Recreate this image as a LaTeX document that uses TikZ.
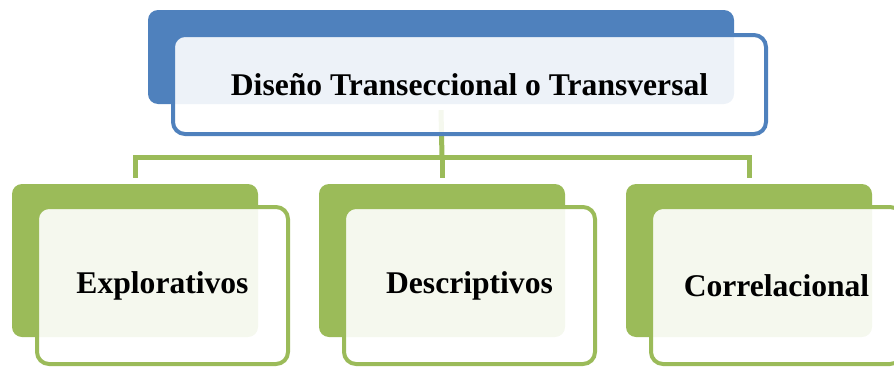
\documentclass[tikz,border=0pt]{standalone}
\usepackage{fontspec}
\setmainfont{Liberation Serif}
\definecolor{diagblue}{HTML}{4F81BD}
\definecolor{diaggreen}{HTML}{9BBB59}
\tikzset{
    backbox/.style={rectangle, rounded corners=10pt, inner sep=0pt},
    frontbox/.style={rectangle, rounded corners=12pt, line width=4pt, fill=white, fill opacity=0.9, text opacity=1, inner sep=0pt, font=\fontsize{31.6}{36}\selectfont\bfseries},
    link/.style={draw=diaggreen, line width=5pt}
}
\begin{document}
\begin{tikzpicture}[x=1pt,y=-1pt]
        \useasboundingbox (0,0) rectangle (894,367);
        
        \node[backbox, fill=diagblue, minimum width=586pt, minimum height=94pt] (titleback) at (441,57) {};
        
        \node[backbox, fill=diaggreen, minimum width=246pt, minimum height=153pt] (exploback) at (135,260.5) {};
        \node[backbox, fill=diaggreen, minimum width=246pt, minimum height=153pt] (descback) at (442,260.5) {};
        \node[backbox, fill=diaggreen, minimum width=246pt, minimum height=153pt] (corrback) at (749,260.5) {};
        
        \coordinate (bus) at (442,157);
        \draw[link] ([yshift=-6pt]titleback.south) -- (bus);
        \draw[link] ([yshift=6pt]exploback.north) |- (bus) -| ([yshift=6pt]corrback.north);
        \draw[link] (bus) -- ([yshift=6pt]descback.north);
        
        \node[frontbox, draw=diagblue, minimum width=593pt, minimum height=99pt] (title) at (469.5,84.5) {Diseño Transeccional o Transversal};
        
        \node[frontbox, draw=diaggreen, minimum width=251pt, minimum height=157pt] (explo) at (162.5,285.5) {Explorativos};
        \node[frontbox, draw=diaggreen, minimum width=251pt, minimum height=157pt] (desc) at (469.5,285.5) {Descriptivos};
        \node[frontbox, draw=diaggreen, minimum width=251pt, minimum height=157pt] (corr) at (776.5,285.5) {Correlacional};
    \end{tikzpicture}
\end{document}
